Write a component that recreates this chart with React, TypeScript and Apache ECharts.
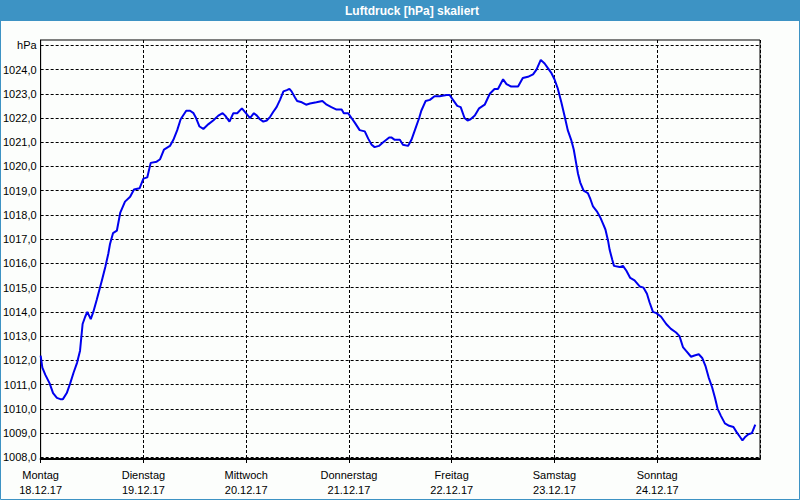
import React, { useEffect, useRef } from "react";
import * as echarts from "echarts";

// hours since Monday 18.12.17 00:00
const hours = [
  0, 0.4, 1.1, 2.1, 2.9, 3.8, 4.6, 5.2, 6.1, 6.9, 7.7, 8.5, 9.2, 9.8, 10.4, 10.9, 11.7, 12.3, 13.1, 14.3,
  15.1, 15.8, 16.2, 16.9, 17.8, 18.6, 19.7, 20.9, 21.8, 23.1, 24.0, 24.9, 25.7, 27.1, 27.9, 28.8, 30.2, 31.0, 31.9, 32.7,
  34.0, 34.9, 35.7, 36.3, 37.1, 38.0, 39.2, 40.3, 41.5, 42.5, 43.1, 44.1, 45.0, 45.9, 47.0, 47.7, 48.9, 49.8, 50.5, 51.2,
  52.0, 52.8, 53.6, 54.3, 55.1, 55.9, 56.7, 57.5, 58.1, 58.6, 59.4, 59.9, 61.0, 62.0, 62.9, 64.4, 65.8, 66.8, 67.9, 69.1,
  70.3, 70.8, 71.8, 72.6, 73.4, 74.5, 75.7, 76.5, 77.3, 78.0, 79.0, 80.0, 81.4, 81.9, 82.7, 83.9, 84.6, 85.8, 86.6, 87.4,
  88.4, 88.9, 89.9, 90.9, 92.0, 93.2, 94.8, 95.5, 96.3, 97.3, 98.1, 99.0, 99.7, 100.4, 101.4, 102.4, 103.7, 104.9, 106.0, 106.8,
  108.0, 108.8, 109.9, 111.5, 112.6, 113.8, 115.0, 115.8, 116.8, 117.7, 118.5, 119.3, 120.0, 120.8, 121.6, 122.4, 123.1, 123.9, 124.5, 125.1,
  125.5, 126.0, 126.8, 127.8, 128.4, 129.0, 129.9, 130.7, 131.3, 131.9, 132.5, 132.9, 133.5, 133.9, 135.2, 136.0, 136.8, 137.7, 138.7, 139.9,
  140.8, 141.6, 142.2, 143.0, 143.8, 144.9, 146.1, 147.2, 148.4, 149.2, 150.0, 150.7, 151.9, 152.7, 153.7, 154.5, 155.3, 156.0, 156.8, 157.5,
  158.1, 158.9, 159.8, 160.8, 161.8, 162.5, 163.3, 163.9, 164.6, 165.3, 166.1, 166.9,
];

const pressure = [
  1012.2, 1011.7, 1011.4, 1011.05, 1010.65, 1010.45, 1010.4, 1010.4, 1010.65, 1011.05, 1011.5, 1011.9, 1012.4, 1013.5, 1013.8, 1014.0, 1013.7, 1014.0, 1014.5, 1015.3,
  1015.85, 1016.4, 1016.8, 1017.25, 1017.35, 1018.1, 1018.55, 1018.75, 1019.05, 1019.1, 1019.5, 1019.55, 1020.15, 1020.2, 1020.3, 1020.7, 1020.85, 1021.1, 1021.5, 1021.95,
  1022.3, 1022.3, 1022.2, 1022.0, 1021.65, 1021.55, 1021.75, 1021.9, 1022.1, 1022.2, 1022.1, 1021.85, 1022.2, 1022.2, 1022.4, 1022.25, 1022.0, 1022.2, 1022.1, 1021.95,
  1021.85, 1021.9, 1022.05, 1022.25, 1022.45, 1022.75, 1023.1, 1023.15, 1023.2, 1023.1, 1022.85, 1022.7, 1022.65, 1022.55, 1022.6, 1022.65, 1022.7, 1022.55, 1022.45, 1022.35,
  1022.35, 1022.2, 1022.2, 1022.0, 1021.8, 1021.5, 1021.45, 1021.15, 1020.9, 1020.8, 1020.85, 1021.0, 1021.2, 1021.2, 1021.1, 1021.1, 1020.9, 1020.85, 1021.1, 1021.5,
  1022.0, 1022.3, 1022.7, 1022.75, 1022.9, 1022.9, 1022.95, 1022.95, 1022.75, 1022.5, 1022.45, 1022.0, 1021.9, 1021.95, 1022.1, 1022.4, 1022.55, 1023.0, 1023.2, 1023.2,
  1023.6, 1023.4, 1023.3, 1023.3, 1023.65, 1023.7, 1023.8, 1024.0, 1024.4, 1024.25, 1024.05, 1023.85, 1023.6, 1023.2, 1022.65, 1022.05, 1021.5, 1021.1, 1020.7, 1020.1,
  1019.7, 1019.35, 1019.0, 1018.9, 1018.65, 1018.35, 1018.15, 1017.9, 1017.65, 1017.4, 1016.95, 1016.55, 1016.15, 1015.9, 1015.85, 1015.9, 1015.7, 1015.4, 1015.3, 1015.05,
  1015.0, 1014.75, 1014.4, 1014.0, 1013.95, 1013.8, 1013.5, 1013.3, 1013.15, 1013.0, 1012.55, 1012.4, 1012.15, 1012.2, 1012.25, 1012.1, 1011.75, 1011.3, 1010.9, 1010.45,
  1010.0, 1009.7, 1009.4, 1009.3, 1009.25, 1009.05, 1008.85, 1008.7, 1008.85, 1008.95, 1009.0, 1009.35,
];

const dayNames = ["Montag", "Dienstag", "Mittwoch", "Donnerstag", "Freitag", "Samstag", "Sonntag"];
const dayDates = ["18.12.17", "19.12.17", "20.12.17", "21.12.17", "22.12.17", "23.12.17", "24.12.17"];
const yTicks = [1008, 1009, 1010, 1011, 1012, 1013, 1014, 1015, 1016, 1017, 1018, 1019, 1020, 1021, 1022, 1023, 1024, 1025];
const yUnit = "hPa";
const titleText = "Luftdruck [hPa] skaliert";

const FONT = "'Liberation Sans', Arial, sans-serif";
const BLUE = "#3d93c4";

export default function App() {
  const ref = useRef<HTMLDivElement>(null);
  useEffect(() => {
    document.body.style.margin = "0";
    const chart = echarts.init(ref.current!, null, { renderer: "svg" });
    const data = hours.map((h, i) => [h, pressure[i]]);
    chart.setOption({
      animation: false,
      backgroundColor: "#fcfefc",
      title: {
        text: titleText,
        left: 345,
        top: 4,
        padding: 0,
        textStyle: { color: "#ffffff", fontSize: 12, fontWeight: "bold", fontFamily: FONT, lineHeight: 13 },
        z: 10,
      },
      graphic: [
        { type: "rect", shape: { x: 0, y: 0, width: 800, height: 21 }, style: { fill: BLUE }, z: -1 },
        {
          type: "polyline",
          shape: { points: [[0.5, 0], [0.5, 499.5], [799.5, 499.5], [799.5, 0]] },
          style: { stroke: BLUE, lineWidth: 1, fill: "none" },
        },
      ],
      grid: { left: 40, right: 40, top: 40, bottom: 41, show: true, borderColor: "#000", borderWidth: 1, backgroundColor: "transparent" },
      xAxis: {
        type: "value",
        min: 0,
        max: 168,
        interval: 24,
        axisLine: { show: true, lineStyle: { color: "#000", width: 2 } },
        axisTick: { show: true, length: 4, lineStyle: { color: "#000" } },
        splitLine: { show: true, lineStyle: { color: "#000", width: 1, type: [3, 2] } },
        axisLabel: {
          margin: 8,
          showMaxLabel: false,
          color: "#000",
          fontSize: 11,
          lineHeight: 15,
          fontFamily: FONT,
          formatter: (v: number) => {
            const i = Math.round(v / 24);
            return i < dayNames.length ? dayNames[i] + "\n" + dayDates[i] : "";
          },
        },
      },
      yAxis: {
        type: "value",
        min: 1007.93,
        max: 1025.22,
        axisLine: { show: true, lineStyle: { color: "#000", width: 1 } },
        axisTick: { show: false, customValues: yTicks },
        splitLine: { show: true, lineStyle: { color: "#000", width: 1, type: [3, 2] } },
        axisLabel: {
          customValues: yTicks,
          margin: 4,
          color: "#000",
          fontSize: 11,
          fontFamily: FONT,
          formatter: (v: number) => (Math.round(v) === 1025 ? yUnit : v.toFixed(1).replace(".", ",")),
        },
      },
      series: [
        {
          type: "line",
          data,
          symbol: "none",
          smooth: false,
          lineStyle: { color: "#0000ee", width: 2 },
        },
      ],
    });
    return () => chart.dispose();
  }, []);
  return <div ref={ref} style={{ width: 800, height: 500 }} />;
}
